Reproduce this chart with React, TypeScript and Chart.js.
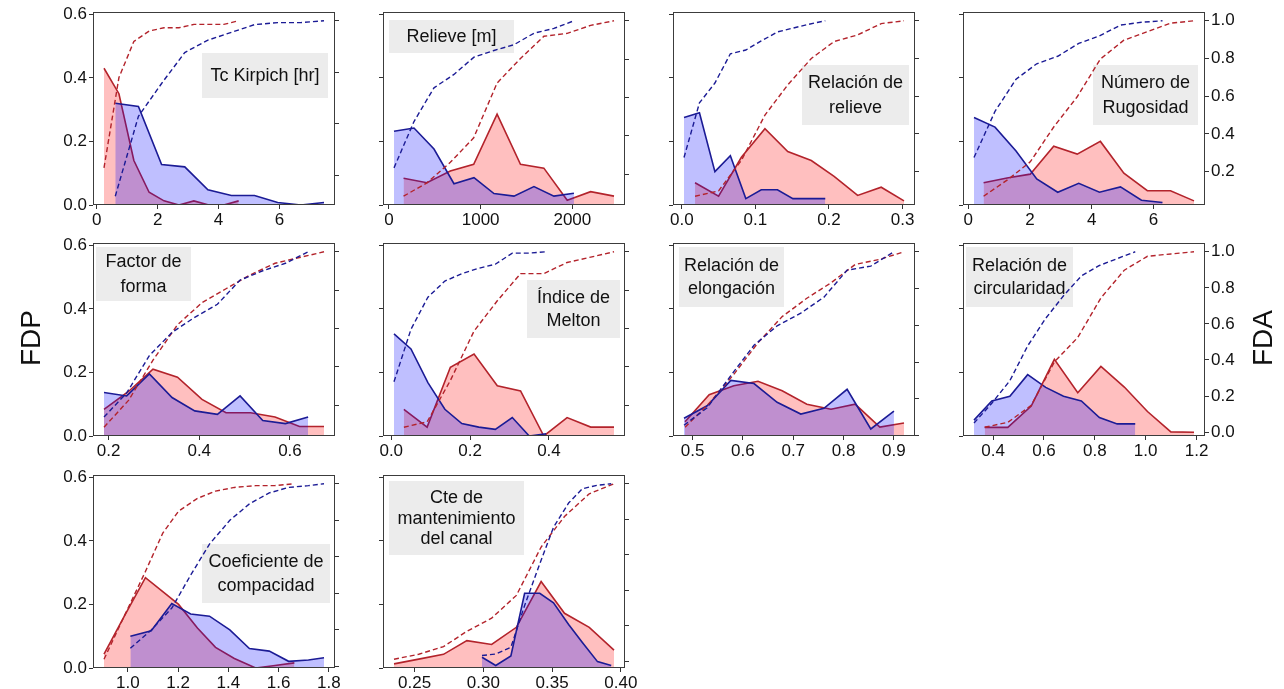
import React, { useEffect, useRef } from "react";
import { Chart, registerables } from "chart.js";
Chart.register(...registerables);

// ---------------- DATA ----------------
// 1. Tc Kirpich [hr]
const kirpichRedX = [0.24, 0.73, 1.22, 1.72, 2.21, 2.7, 3.19, 3.68, 4.17, 4.66];
const kirpichRedPdf = [0.43, 0.35, 0.14, 0.04, 0.013, 0.0, 0.013, 0.0, 0.0, 0.013];
const kirpichRedCdf = [0.43, 0.78, 0.92, 0.96, 0.973, 0.973, 0.986, 0.986, 0.986, 1.0];
const kirpichBlueX = [0.61, 1.37, 2.13, 2.89, 3.65, 4.42, 5.18, 5.94, 6.7, 7.46];
const kirpichBluePdf = [0.32, 0.31, 0.127, 0.12, 0.048, 0.03, 0.03, 0.008, 0.0, 0.008];
const kirpichBlueCdf = [0.32, 0.63, 0.757, 0.877, 0.925, 0.955, 0.985, 0.993, 0.993, 1.0];

// 2. Relieve [m]
const relieveRedX = [159, 414, 669, 924, 1179, 1434, 1689, 1944, 2199, 2454];
const relieveRedPdf = [0.084, 0.07, 0.107, 0.128, 0.286, 0.128, 0.116, 0.015, 0.042, 0.028];
const relieveRedCdf = [0.084, 0.154, 0.261, 0.389, 0.675, 0.803, 0.919, 0.934, 0.976, 1.0];
const relieveBlueX = [55, 273, 491, 709, 927, 1145, 1363, 1581, 1799, 2017];
const relieveBluePdf = [0.232, 0.242, 0.176, 0.067, 0.086, 0.036, 0.028, 0.058, 0.028, 0.037];
const relieveBlueCdf = [0.232, 0.474, 0.65, 0.72, 0.81, 0.845, 0.875, 0.935, 0.96, 1.0];

// 3. Relación de relieve
const relRelieveRedX = [0.018, 0.05, 0.081, 0.113, 0.144, 0.176, 0.207, 0.239, 0.271, 0.302];
const relRelieveRedPdf = [0.07, 0.028, 0.15, 0.24, 0.168, 0.14, 0.09, 0.03, 0.056, 0.013];
const relRelieveRedCdf = [0.07, 0.098, 0.26, 0.5, 0.66, 0.8, 0.89, 0.925, 0.985, 1.0];
const relRelieveBlueX = [0.003, 0.024, 0.045, 0.066, 0.087, 0.108, 0.13, 0.151, 0.172, 0.195];
const relRelieveBluePdf = [0.275, 0.29, 0.105, 0.155, 0.02, 0.048, 0.048, 0.02, 0.02, 0.02];
const relRelieveBlueCdf = [0.275, 0.565, 0.67, 0.825, 0.845, 0.893, 0.941, 0.961, 0.981, 1.0];

// 4. Número de Rugosidad
const rugosidadRedX = [0.5, 1.26, 2.01, 2.77, 3.53, 4.28, 5.04, 5.8, 6.55, 7.31];
const rugosidadRedPdf = [0.07, 0.085, 0.097, 0.185, 0.16, 0.2, 0.1, 0.045, 0.045, 0.013];
const rugosidadRedCdf = [0.07, 0.155, 0.252, 0.437, 0.597, 0.797, 0.897, 0.942, 0.987, 1.0];
const rugosidadBlueX = [0.19, 0.87, 1.55, 2.22, 2.9, 3.58, 4.25, 4.93, 5.61, 6.29];
const rugosidadBluePdf = [0.275, 0.245, 0.17, 0.082, 0.04, 0.068, 0.04, 0.057, 0.015, 0.008];
const rugosidadBlueCdf = [0.275, 0.52, 0.69, 0.772, 0.812, 0.88, 0.92, 0.977, 0.992, 1.0];

// 5. Factor de forma
const formaRedX = [0.19, 0.244, 0.298, 0.352, 0.406, 0.459, 0.513, 0.567, 0.621, 0.675];
const formaRedPdf = [0.084, 0.14, 0.21, 0.185, 0.115, 0.073, 0.073, 0.06, 0.03, 0.03];
const formaRedCdf = [0.084, 0.224, 0.434, 0.619, 0.734, 0.807, 0.88, 0.94, 0.97, 1.0];
const formaBlueX = [0.19, 0.24, 0.29, 0.34, 0.39, 0.44, 0.49, 0.54, 0.59, 0.64];
const formaBluePdf = [0.137, 0.126, 0.195, 0.121, 0.079, 0.068, 0.126, 0.049, 0.039, 0.06];
const formaBlueCdf = [0.137, 0.263, 0.458, 0.579, 0.658, 0.726, 0.852, 0.901, 0.94, 1.0];

// 6. Índice de Melton
const meltonRedX = [0.032, 0.091, 0.15, 0.21, 0.269, 0.328, 0.387, 0.446, 0.506, 0.565];
const meltonRedPdf = [0.084, 0.028, 0.216, 0.258, 0.158, 0.142, 0.0, 0.058, 0.028, 0.028];
const meltonRedCdf = [0.084, 0.112, 0.328, 0.586, 0.744, 0.886, 0.886, 0.944, 0.972, 1.0];
const meltonBlueX = [0.007, 0.05, 0.093, 0.136, 0.179, 0.222, 0.264, 0.307, 0.35, 0.393];
const meltonBluePdf = [0.321, 0.274, 0.168, 0.084, 0.039, 0.028, 0.021, 0.058, 0.0, 0.007];
const meltonBlueCdf = [0.321, 0.595, 0.763, 0.847, 0.886, 0.914, 0.935, 0.993, 0.993, 1.0];

// 7. Relación de elongación
const elongRedX = [0.485, 0.533, 0.582, 0.63, 0.678, 0.727, 0.775, 0.823, 0.872, 0.92];
const elongRedPdf = [0.045, 0.13, 0.158, 0.172, 0.142, 0.1, 0.084, 0.1, 0.028, 0.041];
const elongRedCdf = [0.045, 0.175, 0.333, 0.505, 0.647, 0.747, 0.831, 0.931, 0.959, 1.0];
const elongBlueX = [0.483, 0.529, 0.576, 0.622, 0.668, 0.715, 0.761, 0.807, 0.854, 0.9];
const elongBluePdf = [0.056, 0.095, 0.175, 0.165, 0.106, 0.069, 0.087, 0.147, 0.022, 0.078];
const elongBlueCdf = [0.056, 0.151, 0.326, 0.491, 0.597, 0.666, 0.753, 0.9, 0.922, 1.0];

// 8. Relación de circularidad
const circRedX = [0.367, 0.458, 0.55, 0.641, 0.733, 0.824, 0.916, 1.007, 1.099, 1.19];
const circRedPdf = [0.027, 0.027, 0.094, 0.241, 0.136, 0.219, 0.154, 0.077, 0.013, 0.012];
const circRedCdf = [0.027, 0.054, 0.148, 0.389, 0.525, 0.744, 0.898, 0.975, 0.988, 1.0];
const circBlueX = [0.325, 0.395, 0.466, 0.536, 0.607, 0.677, 0.747, 0.818, 0.888, 0.959];
const circBluePdf = [0.05, 0.11, 0.125, 0.193, 0.153, 0.125, 0.11, 0.058, 0.038, 0.038];
const circBlueCdf = [0.05, 0.16, 0.285, 0.478, 0.631, 0.756, 0.866, 0.924, 0.962, 1.0];

// 9. Coeficiente de compacidad
const compRedX = [0.905, 0.987, 1.07, 1.139, 1.202, 1.277, 1.349, 1.424, 1.509, 1.586, 1.663];
const compRedPdf = [0.044, 0.165, 0.284, 0.24, 0.2, 0.126, 0.065, 0.03, 0.0, 0.008, 0.016];
const compRedCdf = [0.04, 0.28, 0.52, 0.73, 0.85, 0.92, 0.96, 0.98, 0.99, 0.99, 1.0];
const compBlueX = [1.01, 1.093, 1.175, 1.25, 1.325, 1.406, 1.484, 1.563, 1.64, 1.719, 1.781];
const compBluePdf = [0.1, 0.117, 0.203, 0.17, 0.163, 0.12, 0.061, 0.053, 0.021, 0.025, 0.032];
const compBlueCdf = [0.1, 0.2, 0.32, 0.5, 0.67, 0.8, 0.89, 0.95, 0.98, 0.99, 1.0];

// 10. Cte de mantenimiento del canal
const cteRedX = [0.235, 0.253, 0.271, 0.288, 0.306, 0.324, 0.342, 0.359, 0.377, 0.395];
const cteRedPdf = [0.013, 0.028, 0.043, 0.086, 0.074, 0.128, 0.272, 0.172, 0.128, 0.056];
const cteRedCdf = [0.013, 0.041, 0.084, 0.17, 0.244, 0.372, 0.644, 0.816, 0.944, 1.0];
const cteBlueX = [0.299, 0.309, 0.32, 0.33, 0.341, 0.351, 0.362, 0.372, 0.383, 0.393];
const cteBluePdf = [0.034, 0.008, 0.038, 0.235, 0.235, 0.205, 0.137, 0.08, 0.02, 0.008];
const cteBlueCdf = [0.034, 0.042, 0.08, 0.315, 0.55, 0.755, 0.892, 0.972, 0.992, 1.0];

// Panel titles and tick settings
const panelTitles = [
  ["Tc Kirpich [hr]"],
  ["Relieve [m]"],
  ["Relación de", "relieve"],
  ["Número de", "Rugosidad"],
  ["Factor de", "forma"],
  ["Índice de", "Melton"],
  ["Relación de", "elongación"],
  ["Relación de", "circularidad"],
  ["Coeficiente de", "compacidad"],
  ["Cte de", "mantenimiento", "del canal"],
];
const xTickSteps = [2, 1000, 0.1, 2, 0.2, 0.2, 0.1, 0.2, 0.2, 0.05];
const xTickDecimals = [0, 0, 1, 0, 1, 1, 1, 1, 1, 2];
const pdfTickStep = 0.2;
const cdfTickStep = 0.2;
const leftAxisLabel = "FDP";
const rightAxisLabel = "FDA";

// ---------------- LAYOUT / STYLE ----------------
const FONT = '"Liberation Sans", Arial, Helvetica, sans-serif';
const RED_LINE = "#b3232b";
const RED_FILL = "rgba(255, 0, 0, 0.25)";
const BLUE_LINE = "#1b1b95";
const BLUE_FILL = "rgba(0, 0, 255, 0.25)";
const TEXT = "#111111";
const FRAME_W = 242;
const FRAME_H = 193;
const AXIS_W = 48;
const PAD_TOP = 16;
const XAXIS_H = 32;
const colLefts = [93, 383, 673, 963];
const rowTops = [12, 243, 475];
const PDF_MAX = 0.607;

// title boxes relative to the plot frame: [x, y, w, h, lineHeight]
const titleBoxes: number[][] = [
  [109, 41, 126, 45, 24],
  [6, 8, 125, 33, 24],
  [129, 53, 107, 60, 25],
  [130, 53, 105, 60, 25],
  [3, 4, 95, 54, 25],
  [144, 37, 93, 58, 23],
  [6, 4, 105, 60, 23],
  [3, 4, 107, 60, 23],
  [109, 69, 128, 59, 24],
  [6, 6, 135, 74, 20.5],
];

type PanelDef = {
  idx: number;
  row: number;
  col: number;
  redX: number[];
  redPdf: number[];
  redCdf: number[];
  blueX: number[];
  bluePdf: number[];
  blueCdf: number[];
};

const panels: PanelDef[] = [
  { idx: 0, row: 0, col: 0, redX: kirpichRedX, redPdf: kirpichRedPdf, redCdf: kirpichRedCdf, blueX: kirpichBlueX, bluePdf: kirpichBluePdf, blueCdf: kirpichBlueCdf },
  { idx: 1, row: 0, col: 1, redX: relieveRedX, redPdf: relieveRedPdf, redCdf: relieveRedCdf, blueX: relieveBlueX, bluePdf: relieveBluePdf, blueCdf: relieveBlueCdf },
  { idx: 2, row: 0, col: 2, redX: relRelieveRedX, redPdf: relRelieveRedPdf, redCdf: relRelieveRedCdf, blueX: relRelieveBlueX, bluePdf: relRelieveBluePdf, blueCdf: relRelieveBlueCdf },
  { idx: 3, row: 0, col: 3, redX: rugosidadRedX, redPdf: rugosidadRedPdf, redCdf: rugosidadRedCdf, blueX: rugosidadBlueX, bluePdf: rugosidadBluePdf, blueCdf: rugosidadBlueCdf },
  { idx: 4, row: 1, col: 0, redX: formaRedX, redPdf: formaRedPdf, redCdf: formaRedCdf, blueX: formaBlueX, bluePdf: formaBluePdf, blueCdf: formaBlueCdf },
  { idx: 5, row: 1, col: 1, redX: meltonRedX, redPdf: meltonRedPdf, redCdf: meltonRedCdf, blueX: meltonBlueX, bluePdf: meltonBluePdf, blueCdf: meltonBlueCdf },
  { idx: 6, row: 1, col: 2, redX: elongRedX, redPdf: elongRedPdf, redCdf: elongRedCdf, blueX: elongBlueX, bluePdf: elongBluePdf, blueCdf: elongBlueCdf },
  { idx: 7, row: 1, col: 3, redX: circRedX, redPdf: circRedPdf, redCdf: circRedCdf, blueX: circBlueX, bluePdf: circBluePdf, blueCdf: circBlueCdf },
  { idx: 8, row: 2, col: 0, redX: compRedX, redPdf: compRedPdf, redCdf: compRedCdf, blueX: compBlueX, bluePdf: compBluePdf, blueCdf: compBlueCdf },
  { idx: 9, row: 2, col: 1, redX: cteRedX, redPdf: cteRedPdf, redCdf: cteRedCdf, blueX: cteBlueX, bluePdf: cteBluePdf, blueCdf: cteBlueCdf },
];

function pts(xs: number[], ys: number[]) {
  return xs.map((x, i) => ({ x, y: ys[i] }));
}
function padRange(lo: number, hi: number): [number, number] {
  const m = (hi - lo) * 0.05;
  return [lo - m, hi + m];
}
function stepTicks(min: number, max: number, step: number) {
  const out: { value: number }[] = [];
  let k = Math.ceil(min / step - 1e-9);
  for (; k * step <= max + 1e-9; k++) out.push({ value: Number((k * step).toFixed(6)) });
  return out;
}

const decorPlugin = {
  id: "panelDecor",
  beforeDatasetsDraw(chart: any, _args: any, opts: any) {
    const { ctx, chartArea: a } = chart;
    const [bx, by, bw, bh, lh] = opts.box;
    const lines: string[] = opts.lines;
    ctx.save();
    ctx.fillStyle = "#ececec";
    ctx.fillRect(a.left + bx, a.top + by, bw, bh);
    ctx.fillStyle = TEXT;
    ctx.font = `18px ${FONT}`;
    ctx.textAlign = "center";
    ctx.textBaseline = "middle";
    const cx = a.left + bx + bw / 2;
    const cy = a.top + by + bh / 2 + 1;
    lines.forEach((t, i) => ctx.fillText(t, cx, cy + (i - (lines.length - 1) / 2) * lh));
    ctx.restore();
  },
  afterDatasetsDraw(chart: any) {
    const { ctx, chartArea: a } = chart;
    ctx.save();
    ctx.strokeStyle = "#3c3c3c";
    ctx.lineWidth = 1;
    const l = Math.round(a.left) + 0.5;
    const t = Math.round(a.top) + 0.5;
    const r = Math.round(a.right) - 0.5;
    const b = Math.round(a.bottom) - 0.5;
    ctx.strokeRect(l, t, r - l, b - t);
    ctx.restore();
  },
};

function gridOpts() {
  return {
    drawOnChartArea: false,
    drawTicks: true,
    tickLength: 4,
    tickColor: "#333333",
    color: "#333333",
  };
}

function Panel({ p }: { p: PanelDef }) {
  const ref = useRef<HTMLCanvasElement>(null);
  const W = FRAME_W + AXIS_W * 2;
  const H = FRAME_H + PAD_TOP + XAXIS_H;
  const left = colLefts[p.col] - AXIS_W;
  const top = rowTops[p.row] - PAD_TOP;
  const showLeft = p.col === 0;
  const showRight = p.col === 3;

  useEffect(() => {
    if (!ref.current) return;
    const allX = [...p.redX, ...p.blueX];
    const [xmin, xmax] = padRange(Math.min(...allX), Math.max(...allX));
    const allC = [...p.redCdf, ...p.blueCdf];
    const [cmin, cmax] = padRange(Math.min(...allC), Math.max(...allC));
    const dec = xTickDecimals[p.idx];
    const xStep = xTickSteps[p.idx];
    const tickFont = { size: 17, family: FONT };
    const chart = new Chart(ref.current, {
      type: "line",
      data: {
        datasets: [
          {
            data: pts(p.redX, p.redPdf),
            yAxisID: "y",
            borderColor: RED_LINE,
            backgroundColor: RED_FILL,
            fill: "origin",
            borderWidth: 1.6,
            pointRadius: 0,
            tension: 0,
            order: 3,
          },
          {
            data: pts(p.blueX, p.bluePdf),
            yAxisID: "y",
            borderColor: BLUE_LINE,
            backgroundColor: BLUE_FILL,
            fill: "origin",
            borderWidth: 1.6,
            pointRadius: 0,
            tension: 0,
            order: 2,
          },
          {
            data: pts(p.redX, p.redCdf),
            yAxisID: "y2",
            borderColor: RED_LINE,
            borderDash: [5, 3],
            fill: false,
            borderWidth: 1.4,
            pointRadius: 0,
            tension: 0,
            order: 1,
          },
          {
            data: pts(p.blueX, p.blueCdf),
            yAxisID: "y2",
            borderColor: BLUE_LINE,
            borderDash: [5, 3],
            fill: false,
            borderWidth: 1.4,
            pointRadius: 0,
            tension: 0,
            order: 0,
          },
        ],
      } as any,
      options: {
        animation: false,
        responsive: false,
        devicePixelRatio: 1,
        events: [],
        layout: { autoPadding: false, padding: { top: PAD_TOP, left: 0, right: 0, bottom: 0 } },
        plugins: {
          legend: { display: false },
          tooltip: { enabled: false },
          panelDecor: { box: titleBoxes[p.idx], lines: panelTitles[p.idx] },
        } as any,
        scales: {
          x: {
            type: "linear",
            min: xmin,
            max: xmax,
            afterBuildTicks: (s: any) => {
              s.ticks = stepTicks(xmin, xmax, xStep);
            },
            afterFit: (s: any) => {
              s.height = XAXIS_H;
            },
            grid: gridOpts(),
            border: { display: false },
            ticks: {
              autoSkip: false,
              maxRotation: 0,
              padding: 1,
              color: TEXT,
              font: tickFont,
              callback: (v: any) => Number(v).toFixed(dec),
            },
          },
          y: {
            type: "linear",
            position: "left",
            min: 0,
            max: PDF_MAX,
            afterBuildTicks: (s: any) => {
              s.ticks = stepTicks(0, PDF_MAX, pdfTickStep);
            },
            afterFit: (s: any) => {
              s.width = AXIS_W;
            },
            grid: gridOpts(),
            border: { display: false },
            ticks: {
              display: showLeft,
              padding: 2,
              color: TEXT,
              font: tickFont,
              callback: (v: any) => Number(v).toFixed(1),
            },
          },
          y2: {
            type: "linear",
            position: "right",
            min: cmin,
            max: cmax,
            afterBuildTicks: (s: any) => {
              s.ticks = stepTicks(cmin, cmax, cdfTickStep);
            },
            afterFit: (s: any) => {
              s.width = AXIS_W;
            },
            grid: gridOpts(),
            border: { display: false },
            ticks: {
              display: showRight,
              padding: 2,
              color: TEXT,
              font: tickFont,
              callback: (v: any) => Number(v).toFixed(1),
            },
          },
        } as any,
      },
      plugins: [decorPlugin as any],
    });
    return () => chart.destroy();
  }, [p]);

  return (
    <canvas
      ref={ref}
      width={W}
      height={H}
      style={{ position: "absolute", left, top, width: W, height: H }}
    />
  );
}

export default function App() {
  const sideLabel: React.CSSProperties = {
    position: "absolute",
    top: 338,
    fontFamily: FONT,
    fontSize: 28,
    color: TEXT,
    transform: "translate(-50%, -50%) rotate(-90deg)",
    whiteSpace: "nowrap",
    lineHeight: 1,
  };
  return (
    <div
      style={{
        position: "fixed",
        left: 0,
        top: 0,
        width: 1284,
        height: 689,
        background: "#ffffff",
        overflow: "hidden",
      }}
    >
      {panels.map((p) => (
        <Panel key={p.idx} p={p} />
      ))}
      <div style={{ ...sideLabel, left: 31 }}>{leftAxisLabel}</div>
      <div style={{ ...sideLabel, left: 1263 }}>{rightAxisLabel}</div>
    </div>
  );
}
